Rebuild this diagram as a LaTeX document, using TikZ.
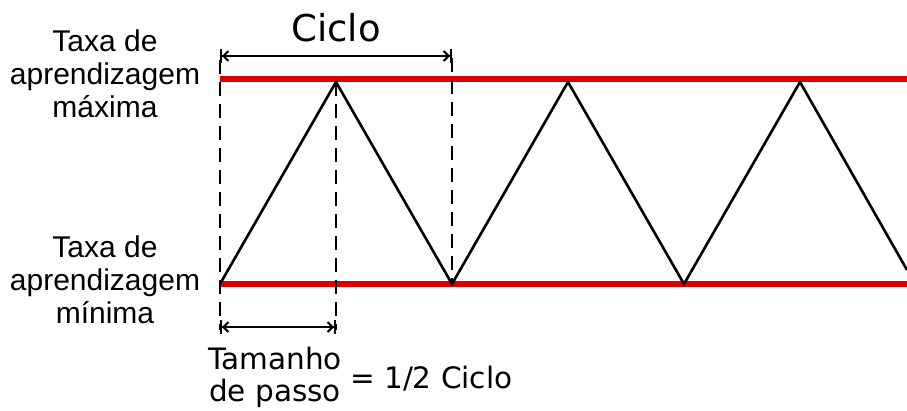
\documentclass[tikz,border=0pt]{standalone}
\usepackage{fontspec}
\setmainfont{Liberation Sans}
\newfontfamily\verd{DejaVu Sans}
\usetikzlibrary{arrows.meta}
\definecolor{lrred}{RGB}{220,0,0}
\begin{document}
\begin{tikzpicture}[x=1pt,y=-1pt,
  redline/.style={draw=lrred,line width=5.5pt},
  wave/.style={draw=black,line width=2.6pt,line join=miter},
  guide/.style={draw=black,line width=2pt,dash pattern=on 14pt off 8pt},
  dim/.style={draw=black,line width=2pt,{Bar[width=14pt]Straight Barb[length=5pt,width=10pt]}-{Straight Barb[length=5pt,width=10pt]Bar[width=14pt]}},
  lbl/.style={align=center,font=\fontsize{30}{33}\selectfont,inner sep=0pt},
  vlbl/.style={font=\verd\fontsize{29.5}{32}\selectfont,inner sep=0pt}
]
\useasboundingbox (0,0) rectangle (907,410);
% key points
\coordinate (t0) at (220,79);
\coordinate (tE) at (907,79);
\coordinate (b0) at (220,284);
\coordinate (bE) at (907,284);
\coordinate (p0) at (220,284);
\coordinate (p1) at (336,82);
\coordinate (p2) at (452,284);
\coordinate (p3) at (568,82);
\coordinate (p4) at (684,284);
\coordinate (p5) at (800,82);
\coordinate (p6) at (907,270);
% red lines
\draw[redline] (t0) -- (tE);
\draw[redline] (b0) -- (bE);
% wave
\draw[wave] (p0) -- (p1) -- (p2) -- (p3) -- (p4) -- (p5) -- (p6);
% guides
\coordinate (g0a) at (220,60);
\coordinate (g0b) at (220,330);
\coordinate (g1b) at (336,330);
\coordinate (g2a) at (452,58);
\draw[guide] (g0a) -- (g0b);
\draw[guide] (p1) -- (g1b);
\draw[guide] (g2a) -- (p2);
% dimensions
\coordinate (c1) at (220,56);
\coordinate (c2) at (452,56);
\draw[dim] (c1) -- (c2);
\coordinate (s1) at (220,327);
\coordinate (s2) at (336,327);
\draw[dim] (s1) -- (s2);
% texts
\node[font=\verd\fontsize{37}{40}\selectfont,inner sep=0pt,anchor=base] (ciclo) at (336,41) {Ciclo};
\node[lbl,anchor=base] (maxlbl) at (105,117) {Taxa de\\aprendizagem\\máxima};
\node[lbl,anchor=base] (minlbl) at (105,323) {Taxa de\\aprendizagem\\mínima};
\node[vlbl,align=center,anchor=base] (step) at (275,401) {Tamanho\\de passo};
\node[vlbl,anchor=base west] (half) at (350,388) {= 1/2 Ciclo};
\end{tikzpicture}
\end{document}
